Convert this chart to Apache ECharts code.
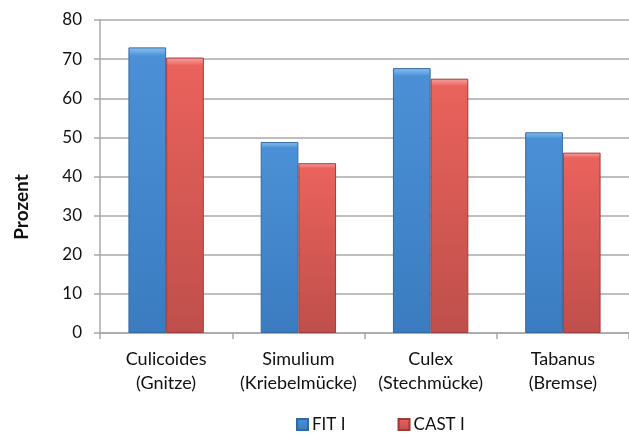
<!DOCTYPE html>
<html>
<head>
<meta charset="utf-8">
<script src="https://cdn.jsdelivr.net/npm/echarts@6/dist/echarts.min.js"></script>
<style>
  html, body { margin: 0; padding: 0; background: #fff; }
  #chart { width: 629px; height: 436px; }
</style>
</head>
<body>
<div id="chart"></div>
<script>
// Insect groups (two-line labels) and the share per trap type, in percent
const categories = [
  'Culicoides\n(Gnitze)',
  'Simulium\n(Kriebelmücke)',
  'Culex\n(Stechmücke)',
  'Tabanus\n(Bremse)'
];
const fitValues = [73.0, 48.8, 67.7, 51.3];
const castValues = [70.4, 43.4, 65.0, 46.1];
const seriesNames = ['FIT I', 'CAST I'];
const yTicks = [0, 10, 20, 30, 40, 50, 60, 70, 80];
const yTitle = 'Prozent';

const FONT = 'Lato, "Open Sans", sans-serif';
const GRID = '#a8a8a8';

function fill(top, mid, bottom) {
  return new echarts.graphic.LinearGradient(0, 0, 0, 1, [
    { offset: 0, color: top },
    { offset: 0.03, color: mid },
    { offset: 1, color: bottom }
  ]);
}

const chart = echarts.init(document.getElementById('chart'), null, { renderer: 'canvas' });

chart.setOption({
  animation: false,
  backgroundColor: '#ffffff',
  grid: { left: 100, top: 20, right: -4, bottom: 103, containLabel: false },
  legend: {
    top: 416,
    left: 296,
    padding: 0,
    itemWidth: 11,
    itemHeight: 11,
    itemGap: 52,
    icon: 'rect',
    textStyle: { fontFamily: FONT, fontSize: 17, color: '#111', padding: [0, 0, 0, -1] },
    data: seriesNames
  },
  xAxis: {
    type: 'category',
    data: categories,
    boundaryGap: true,
    axisLine: { show: true, lineStyle: { color: GRID, width: 1.5 } },
    axisTick: { show: true, alignWithLabel: false, length: 6, lineStyle: { color: GRID, width: 1.5 } },
    axisLabel: {
      interval: 0,
      fontFamily: FONT, fontSize: 18, color: '#111', lineHeight: 24, margin: 14
    }
  },
  yAxis: {
    type: 'value',
    min: yTicks[0],
    max: yTicks[yTicks.length - 1],
    interval: yTicks[1] - yTicks[0],
    axisLine: { show: true, lineStyle: { color: GRID, width: 1.5 } },
    axisTick: { show: true, length: 6, lineStyle: { color: GRID, width: 1.5 } },
    splitLine: { show: true, lineStyle: { color: GRID, width: 1.5 } },
    axisLabel: { fontFamily: FONT, fontSize: 17, color: '#111', margin: 18 }
  },
  graphic: [{
    type: 'text',
    x: 22,
    y: 207,
    rotation: Math.PI / 2,
    style: {
      text: yTitle,
      fontFamily: FONT,
      fontSize: 19,
      fontWeight: 'bold',
      fill: '#111',
      align: 'center',
      verticalAlign: 'middle'
    }
  }],
  series: [
    {
      name: seriesNames[0],
      type: 'bar',
      data: fitValues,
      barGap: '0%',
      barCategoryGap: '43%',
      itemStyle: {
        color: fill('#8cc3f0', '#4b90d6', '#3b7cc0'),
        borderColor: '#3468a3',
        borderWidth: 1
      }
    },
    {
      name: seriesNames[1],
      type: 'bar',
      data: castValues,
      itemStyle: {
        color: fill('#f5a3a0', '#ea625c', '#bf4f4b'),
        borderColor: '#9e3b38',
        borderWidth: 1
      }
    }
  ]
});
</script>
</body>
</html>
